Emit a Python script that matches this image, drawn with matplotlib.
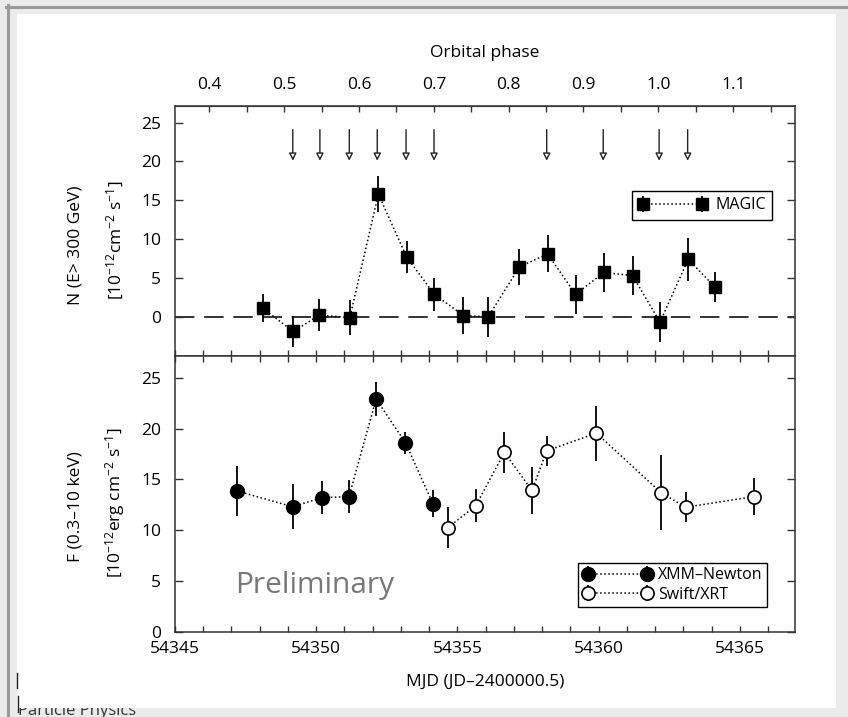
import numpy as np
import matplotlib
matplotlib.use('Agg')
import matplotlib.pyplot as plt
from matplotlib.patches import Rectangle
from matplotlib.lines import Line2D
from matplotlib.ticker import MultipleLocator, FormatStrFormatter

plt.rcParams['font.family'] = ['Open Sans', 'DejaVu Sans']
plt.rcParams['mathtext.default'] = 'regular'

# MAGIC  N(E>300 GeV) [1e-12 cm^-2 s^-1]
magic_mjd = [54348.10, 54349.19, 54350.11, 54351.19, 54352.20, 54353.20, 54354.18,
             54355.21, 54356.09, 54357.19, 54358.19, 54359.18, 54360.19, 54361.20,
             54362.17, 54363.17, 54364.12]
magic_flux = [1.1, -1.9, 0.2, -0.1, 15.8, 7.7, 2.9, 0.15, 0.0, 6.4, 8.1, 2.9, 5.7, 5.3, -0.7, 7.4, 3.8]
magic_err = [1.8, 2.0, 2.1, 2.2, 2.3, 2.1, 2.1, 2.4, 2.6, 2.3, 2.4, 2.5, 2.5, 2.5, 2.6, 2.8, 1.9]

# simultaneous X-ray pointings (arrows)
arrow_mjd = [54349.17, 54350.13, 54351.17, 54352.16, 54353.18, 54354.17,
             54358.16, 54360.16, 54362.14, 54363.15]

# XMM-Newton  F(0.3-10 keV) [1e-12 erg cm^-2 s^-1]
xmm_mjd = [54347.20, 54349.16, 54350.21, 54351.16, 54352.12, 54353.16, 54354.13]
xmm_flux = [13.85, 12.3, 13.2, 13.3, 22.9, 18.6, 12.6]
xmm_err = [2.45, 2.2, 1.6, 1.65, 1.7, 1.1, 1.3]

# Swift/XRT
swift_mjd = [54354.66, 54355.65, 54356.66, 54357.64, 54358.16, 54359.92, 54362.20, 54363.08, 54365.49]
swift_flux = [10.25, 12.4, 17.65, 13.9, 17.8, 19.55, 13.7, 12.25, 13.3]
swift_err = [2.0, 1.6, 2.05, 2.3, 1.5, 2.7, 3.7, 1.5, 1.8]

period = 26.496
mjd_ref, phase_ref = 54346.214, 0.4


def mjd2phase(t):
    return phase_ref + (np.asarray(t) - mjd_ref) / period


def phase2mjd(p):
    return mjd_ref + (np.asarray(p) - phase_ref) * period


W, H = 848, 717
fig = plt.figure(figsize=(W / 100, H / 100), dpi=100)
fig.patch.set_facecolor('#ebebeb')

# page frame around the figure
fig.text(18 / W, (H - 715) / H, 'Particle Physics', fontsize=12, color='#333333',
         va='baseline', zorder=-3)
fig.add_artist(Rectangle((17 / W, (H - 708) / H), 819 / W, 694 / H, transform=fig.transFigure,
                         facecolor='white', edgecolor='none', zorder=-2))
fig.add_artist(Line2D([7.5 / W, 7.5 / W], [0, (H - 5) / H], transform=fig.transFigure,
                      color='#9a9a9a', lw=2.2, zorder=-1))
fig.add_artist(Line2D([6 / W, 1], [(H - 6.5) / H, (H - 6.5) / H], transform=fig.transFigure,
                      color='#9a9a9a', lw=2.2, zorder=-1))
fig.add_artist(Line2D([16.5 / W, 16.5 / W], [(H - 688) / H, (H - 673) / H], transform=fig.transFigure,
                      color='#222222', lw=1.0, zorder=3))
fig.add_artist(Line2D([17.5 / W, 17.5 / W], [(H - 712) / H, (H - 696) / H], transform=fig.transFigure,
                      color='#222222', lw=1.0, zorder=3))

left, width = 175 / W, 620 / W
ax1 = fig.add_axes([left, (H - 356) / H, width, 250 / H])
ax2 = fig.add_axes([left, (H - 631.7) / H, width, 275.7 / H])

axcol = '#333333'
for ax in (ax1, ax2):
    ax.set_xlim(54345, 54366.95)
    for s in ax.spines.values():
        s.set_color(axcol)
        s.set_linewidth(1.1)
    ax.xaxis.set_major_locator(MultipleLocator(5))
    ax.xaxis.set_minor_locator(MultipleLocator(1))
    ax.yaxis.set_major_locator(MultipleLocator(5))
    ax.tick_params(axis='x', which='both', direction='in', length=4, width=1.0, color=axcol)
    ax.tick_params(axis='y', which='both', direction='in', length=6, width=1.0, color=axcol,
                   right=True, labelsize=12.5, pad=10)

# ---- top panel: MAGIC
ax1.set_ylim(-5.06, 27.15)
ax1.set_yticks([0, 5, 10, 15, 20, 25])
ax1.tick_params(axis='x', which='both', top=False, bottom=True, labelbottom=False)
ax1.axhline(0, color='#333333', lw=1.4, dashes=(10, 5), zorder=1)
ax1.errorbar(magic_mjd, magic_flux, yerr=magic_err, fmt='s', ls=':', color='black',
             ms=9, lw=1.1, elinewidth=1.3, capsize=0, zorder=3, label='MAGIC')
for t in arrow_mjd:
    ax1.annotate('', xy=(t, 20.1), xytext=(t, 24.1),
                 arrowprops=dict(arrowstyle='-|>', lw=1.0, ec='#222222', fc='white',
                                 mutation_scale=11, shrinkA=0, shrinkB=0))
ax1.legend(loc='upper right', bbox_to_anchor=(0.963, 0.661), numpoints=2, handlelength=4.3,
           fontsize=11.5, fancybox=False, edgecolor='black', framealpha=1,
           borderpad=0.4, handletextpad=0.5, borderaxespad=0).get_frame().set_linewidth(1.0)

sec = ax1.secondary_xaxis('top', functions=(mjd2phase, phase2mjd))
sec.xaxis.set_major_locator(MultipleLocator(0.1))
sec.xaxis.set_minor_locator(MultipleLocator(0.05))
sec.xaxis.set_major_formatter(FormatStrFormatter('%.1f'))
sec.tick_params(axis='x', which='both', direction='in', length=4, width=1.0, color=axcol,
                labelsize=12.5, pad=9)
sec.set_xlabel('Orbital phase', fontsize=12.5, labelpad=15)
sec.spines['top'].set_color(axcol)

# ---- bottom panel: X-ray
ax2.set_ylim(0, 27.14)
ax2.set_yticks([0, 5, 10, 15, 20, 25])
ax2.tick_params(axis='x', which='both', top=True, labelsize=12.5, pad=7)
ax2.errorbar(xmm_mjd, xmm_flux, yerr=xmm_err, fmt='o', ls=':', color='black',
             ms=10, lw=1.1, elinewidth=1.3, capsize=0, zorder=3, label='XMM\u2013Newton')
ax2.errorbar(swift_mjd, swift_flux, yerr=swift_err, fmt='o', ls=':', color='black', mfc='white',
             mec='black', mew=1.2, ms=9.5, lw=1.1, elinewidth=1.3, capsize=0, zorder=3,
             label='Swift/XRT')
ax2.legend(loc='lower right', bbox_to_anchor=(0.955, 0.0885), numpoints=2, handlelength=4.3,
           fontsize=11.5, fancybox=False, edgecolor='black', framealpha=1,
           borderpad=0.3, handletextpad=0.4, labelspacing=0.2,
           borderaxespad=0).get_frame().set_linewidth(1.0)
ax2.text(0.097, 0.14, 'Preliminary', transform=ax2.transAxes, fontsize=21.5,
         color='#777777', va='baseline')
ax2.set_xlabel('MJD (JD\u20132400000.5)', fontsize=12.5, labelpad=12)

# y labels, two lines each
fig.text(75 / W, (H - 245) / H, 'N (E> 300 GeV)', rotation=90, ha='center', va='center', fontsize=12.5)
fig.text(115 / W, (H - 240) / H, '[10$^{-12}$cm$^{-2}$ s$^{-1}$]', rotation=90, ha='center',
         va='center', fontsize=12.5)
fig.text(75 / W, (H - 507) / H, 'F (0.3\u201310 keV)', rotation=90, ha='center', va='center', fontsize=12.5)
fig.text(115 / W, (H - 503) / H, '[10$^{-12}$erg cm$^{-2}$ s$^{-1}$]', rotation=90, ha='center',
         va='center', fontsize=12.5)

fig.savefig('out.png', dpi=100, facecolor=fig.get_facecolor())
